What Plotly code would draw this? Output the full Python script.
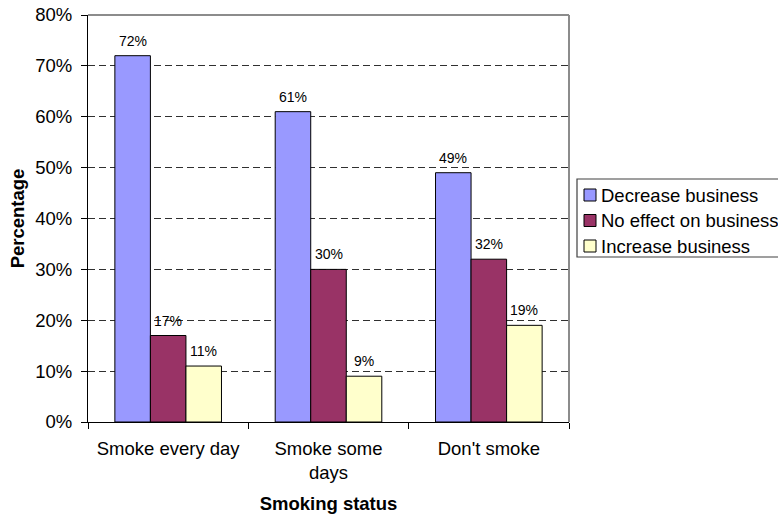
import plotly.graph_objects as go

# Survey data: expected effect of a smoke-free law on business, by smoking status
categories = ["Smoke every day", "Smoke some<br>days", "Don't smoke"]
series_names = ["Decrease business", "No effect on business", "Increase business"]
decrease_business = [72, 61, 49]
no_effect_on_business = [17, 30, 32]
increase_business = [11, 9, 19]
series_values = [decrease_business, no_effect_on_business, increase_business]
y_tick_values = [0, 10, 20, 30, 40, 50, 60, 70, 80]
y_tick_labels = ["0%", "10%", "20%", "30%", "40%", "50%", "60%", "70%", "80%"]

colors = ["#9999FF", "#993366", "#FFFFCC"]
FONT = "Liberation Sans, Arial, sans-serif"
W, H = 778, 516
M_L, M_R, M_T, M_B = 88, 209, 15, 94
BARGAP = 0.335

fig = go.Figure()
for name, vals, col in zip(series_names, series_values, colors):
    fig.add_trace(go.Bar(
        x=categories, y=vals, name=name,
        marker=dict(color=col, line=dict(color="#000000", width=1)),
        showlegend=False, hoverinfo="skip",
    ))

# value labels above each bar, placed in category units
n = len(series_values)
bw = (1 - BARGAP) / n
annotations = []
for j, vals in enumerate(series_values):
    for i, v in enumerate(vals):
        annotations.append(dict(
            x=i + (j - (n - 1) / 2) * bw, y=v, xref="x", yref="y",
            text=f"{v}%", showarrow=False, yanchor="bottom", yshift=5,
            font=dict(family=FONT, size=14, color="#000000"),
        ))

# legend box drawn at the right of the plot area
plot_w = W - M_L - M_R
plot_h = H - M_T - M_B
def px_x(px):
    return (px - M_L) / plot_w
def px_y(py):
    return (H - M_B - py) / plot_h

shapes = [
    # plot area border (top and right)
    dict(type="line", xref="paper", yref="paper", x0=0, x1=1, y0=1, y1=1,
         line=dict(color="#8c8c8c", width=2), layer="above"),
    dict(type="line", xref="paper", yref="paper", x0=1, x1=1, y0=0, y1=1,
         line=dict(color="#8c8c8c", width=2), layer="above"),
    dict(type="rect", xref="paper", yref="paper",
         x0=px_x(577), x1=px_x(800), y0=px_y(257), y1=px_y(179),
         line=dict(color="#404040", width=1.2), fillcolor="#ffffff", layer="above"),
]
row_centers = [195, 220.5, 246]
for name, col, cy in zip(series_names, colors, row_centers):
    shapes.append(dict(type="rect", xref="paper", yref="paper",
                       x0=px_x(584), x1=px_x(596), y0=px_y(cy + 6), y1=px_y(cy - 6),
                       line=dict(color="#000000", width=1), fillcolor=col, layer="above"))
    annotations.append(dict(x=px_x(599), y=px_y(cy), xref="paper", yref="paper",
                            text=name, showarrow=False, xanchor="left", yanchor="middle",
                            font=dict(family=FONT, size=18.5, color="#000000")))

fig.update_layout(
    width=W, height=H,
    margin=dict(l=M_L, r=M_R, t=M_T, b=M_B, pad=0),
    paper_bgcolor="#ffffff", plot_bgcolor="#ffffff",
    barmode="group", bargap=BARGAP, bargroupgap=0,
    font=dict(family=FONT, size=18.5, color="#000000"),
    showlegend=False,
    annotations=annotations, shapes=shapes,
    xaxis=dict(
        type="category", tickson="boundaries", ticks="outside", ticklen=6,
        tickcolor="#000000", showline=True, linecolor="#000000", linewidth=1,
        showgrid=False, automargin=False, ticklabelstandoff=10,
        tickfont=dict(family=FONT, size=18.5),
        title=dict(text="<b>Smoking status</b>", standoff=14,
                   font=dict(family=FONT, size=18.5)),
    ),
    yaxis=dict(
        range=[0, 80], tickvals=y_tick_values, ticktext=y_tick_labels,
        ticks="outside", ticklen=6, tickcolor="#000000",
        showline=True, linecolor="#000000", linewidth=1,
        showgrid=True, gridcolor="#303030", gridwidth=1, griddash="7px,4px",
        zeroline=False, automargin=False, ticklabelstandoff=5,
        tickfont=dict(family=FONT, size=18.5),
        title=dict(text="<b>Percentage</b>", standoff=5,
                   font=dict(family=FONT, size=18.5)),
    ),
)

fig.write_html("out.html")
